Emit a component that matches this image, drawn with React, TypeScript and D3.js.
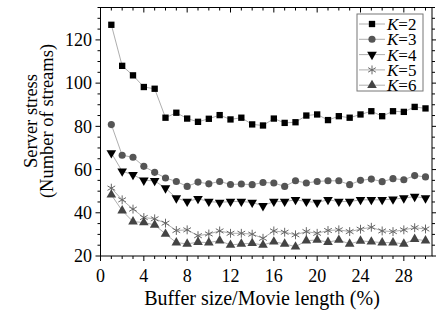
import * as React from "react";
import * as d3 from "d3";

// buffer size / movie length (%)
const bufferPct = d3.range(1, 31);

const k2 = [127, 108, 103.6, 98.2, 97.4, 84, 86.3, 83.6, 82.1, 83.5, 85.2, 83.2, 84, 80.9, 80.4,
    83.6, 81.6, 81.9, 85, 85.5, 82.9, 84.7, 84, 85.5, 87, 84.7, 87, 86.7, 89, 88.3];
const k3 = [80.8, 66.6, 65.7, 61.5, 58.7, 56.1, 54.5, 52.2, 54.2, 53.4, 54.5, 53.1, 53.3, 53, 54,
    53.8, 52.2, 54.8, 53.8, 54.5, 54.8, 54.8, 53, 55, 55.6, 54.4, 55.8, 55.3, 57.2, 56.6];
const k4 = [67.7, 59.2, 57.6, 55, 54.8, 51.4, 46.8, 45.2, 46.5, 45.2, 44.8, 45.2, 45.2, 44.8, 43.2,
    45.2, 45.2, 46, 45.2, 44.8, 46, 45.2, 45.2, 46, 46, 46, 46.3, 46.8, 47.5, 46.8];
const k5 = [51.4, 46, 41.7, 37.8, 37.2, 35.2, 31.8, 32.1, 29.4, 30.2, 31.6, 30.5, 30.5, 30.1, 28.2,
    31.6, 31, 29.8, 31.3, 30.5, 31.8, 32.1, 31.3, 32.4, 33.3, 31.6, 31.3, 32.1, 33.1, 32.5];
const k6 = [48.3, 41, 35.9, 35.5, 34.4, 30.2, 26.2, 25.6, 26.4, 26.2, 27.1, 25.1, 25.6, 25.9, 25.1,
    26.6, 25.6, 24.3, 27.1, 27.4, 26.4, 27.4, 25.6, 27, 26.6, 26.2, 26.2, 25.6, 27.8, 27.1];

const seriesNames = ["K=2", "K=3", "K=4", "K=5", "K=6"];
const seriesValues = [k2, k3, k4, k5, k6];

const yTickLabels = [20, 40, 60, 80, 100, 120];
const xTickLabels = [0, 4, 8, 12, 16, 20, 24, 28];

const FONT = "'Liberation Serif', 'Times New Roman', serif";

// marker look for each series
const markerStyle = [
    { type: d3.symbolSquare, size: 40, fill: "#000", stroke: "none", rotate: 0 },
    { type: d3.symbolCircle, size: 40, fill: "#555", stroke: "none", rotate: 0 },
    { type: d3.symbolTriangle, size: 40, fill: "#000", stroke: "none", rotate: 180 },
    { type: (d3 as any).symbolAsterisk || d3.symbolCross, size: 55, fill: "none", stroke: "#666", rotate: 0 },
    { type: d3.symbolTriangle, size: 40, fill: "#444", stroke: "none", rotate: 0 }
];

function Marker(props: { index: number, x: number, y: number }) {
    let m = markerStyle[props.index];
    let d = d3.symbol().type(m.type).size(m.size)() as string;
    return (
        <path
            d={d}
            transform={`translate(${props.x},${props.y}) rotate(${m.rotate})`}
            fill={m.fill}
            stroke={m.stroke}
            strokeWidth={1}
        />
    );
}

export default function App() {
    let width = 436;
    let height = 314;

    let left = 100.5, right = 432, top = 7.5, bottom = 256;

    let x = d3.scaleLinear().domain([0, 30.6]).range([left, right]);
    let y = d3.scaleLinear().domain([20, 135]).range([bottom, top]);

    let lineGen = d3.line<number>()
        .x((d, i) => x(bufferPct[i]))
        .y(d => y(d));

    let yTicks = d3.range(20, 136, 5);
    let xTicks = d3.range(0, 31, 1);

    // legend
    let legX = 357, legY = 14, legW = 66, legH = 77;
    let legRow = 15.3;

    let yMid = 121;

    return (
        <svg width={width} height={height} style={{ position: "absolute", left: 0, top: 0 }}
            fontFamily={FONT}>
            <rect x={0} y={0} width={width} height={height} fill="#fff" />

            {/* series */}
            {seriesValues.map((vals, si) => (
                <g key={si}>
                    <path d={lineGen(vals) as string} fill="none" stroke="#999" strokeWidth={0.8} />
                    {vals.map((v, i) => (
                        <Marker key={i} index={si} x={x(bufferPct[i])} y={y(v)} />
                    ))}
                </g>
            ))}

            {/* frame */}
            <rect x={left} y={top} width={right - left} height={bottom - top}
                fill="none" stroke="#000" strokeWidth={1} />

            {/* y ticks, left outward, right outward */}
            {yTicks.map(t => {
                let major = t % 20 === 0;
                let len = major ? 5 : 3;
                return (
                    <g key={t}>
                        <line x1={left - len} x2={left} y1={y(t)} y2={y(t)} stroke="#000" />
                        <line x1={right} x2={right + len} y1={y(t)} y2={y(t)} stroke="#000" />
                    </g>
                );
            })}
            {yTickLabels.map(t => (
                <text key={t} x={92} y={y(t)} dy="0.35em" textAnchor="end" fontSize={18}>{t}</text>
            ))}

            {/* x ticks, bottom outward, top inward */}
            {xTicks.map(t => {
                let major = t % 4 === 0;
                let len = major ? 5 : 3;
                return (
                    <g key={t}>
                        <line x1={x(t)} x2={x(t)} y1={bottom} y2={bottom + len} stroke="#000" />
                        <line x1={x(t)} x2={x(t)} y1={top} y2={top + len} stroke="#000" />
                    </g>
                );
            })}
            {xTickLabels.map(t => (
                <text key={t} x={x(t)} y={282} textAnchor="middle" fontSize={18}>{t}</text>
            ))}

            {/* axis titles */}
            <text x={262} y={305} textAnchor="middle" fontSize={20}>
                Buffer size/Movie length (%)
            </text>
            <text transform={`translate(36.5, ${yMid}) rotate(-90)`} textAnchor="middle" fontSize={18.5}>
                Server stress
            </text>
            <text transform={`translate(52.5, ${yMid}) rotate(-90)`} textAnchor="middle" fontSize={18.5}>
                (Number of streams)
            </text>

            {/* legend */}
            <rect x={legX} y={legY} width={legW} height={legH} fill="#fff" stroke="#777" strokeWidth={1} />
            {seriesNames.map((name, i) => {
                let ry = legY + 10 + i * legRow;
                return (
                    <g key={name}>
                        <line x1={legX + 2} x2={legX + 28} y1={ry} y2={ry} stroke="#999" strokeWidth={0.8} />
                        <Marker index={i} x={legX + 15} y={ry} />
                        <text x={legX + 30} y={ry} dy="0.35em" fontSize={17}>
                            <tspan fontStyle="italic">K</tspan>{name.slice(1)}
                        </text>
                    </g>
                );
            })}
        </svg>
    );
}
